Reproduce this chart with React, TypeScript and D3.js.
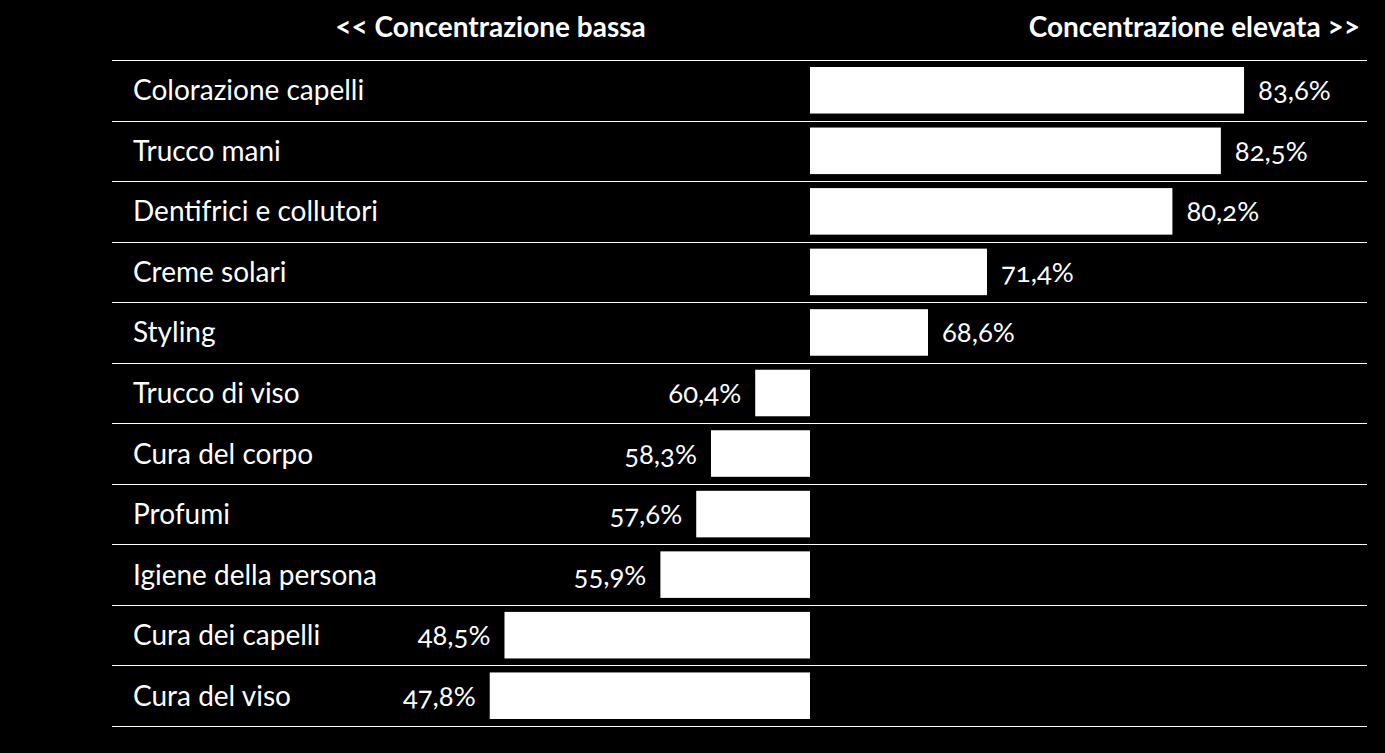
import React from "react";
import * as d3 from "d3";

const categories = [
  "Colorazione capelli",
  "Trucco mani",
  "Dentifrici e collutori",
  "Creme solari",
  "Styling",
  "Trucco di viso",
  "Cura del corpo",
  "Profumi",
  "Igiene della persona",
  "Cura dei capelli",
  "Cura del viso",
];
const values = [83.6, 82.5, 80.2, 71.4, 68.6, 60.4, 58.3, 57.6, 55.9, 48.5, 47.8];
const baselineValue = 63;
const headerLeft = "<< Concentrazione bassa";
const headerRight = "Concentrazione elevata >>";

const W = 1385;
const H = 753;

export default function App() {
  const x = d3.scaleLinear().domain([baselineValue, 84]).range([810, 810 + 21 * 21.07]);
  const y = d3.scaleBand<string>().domain(categories).range([60, 726]).padding(0);
  const step = y.step();
  const inset = 7;
  const fmt = (v: number) => v.toFixed(1).replace(".", ",") + "%";
  const font = "Lato, 'Open Sans', sans-serif";
  const lines = [...categories.map((c) => y(c)!), 726];

  return (
    <svg
      width={W}
      height={H}
      style={{ position: "absolute", left: 0, top: 0, background: "#000" }}
    >
      <rect x={0} y={0} width={W} height={H} fill="#000" />
      <text x={490.5} y={37} fill="#fff" fontFamily={font} fontWeight={700} fontSize={28} textAnchor="middle">
        {headerLeft}
      </text>
      <text x={1360} y={37} fill="#fff" fontFamily={font} fontWeight={700} fontSize={28} textAnchor="end">
        {headerRight}
      </text>
      {lines.map((ly, i) => (
        <line key={i} x1={112} x2={1367} y1={Math.round(ly) + 0.5} y2={Math.round(ly) + 0.5} stroke="#fff" strokeWidth={1.2} />
      ))}
      {categories.map((c, i) => {
        const v = values[i];
        const y0 = y(c)!;
        const x0 = x(Math.min(v, baselineValue));
        const x1 = x(Math.max(v, baselineValue));
        const right = v >= baselineValue;
        return (
          <g key={c}>
            <text x={133} y={y0 + step / 2 + 10} fill="#fff" fontFamily={font} fontSize={28}>
              {c}
            </text>
            <rect x={x0} y={y0 + inset} width={x1 - x0} height={step - 2 * inset} fill="#fff" />
            <text
              x={right ? x1 + 14 : x0 - 14}
              y={y0 + step / 2 + 10}
              fill="#fff"
              fontFamily={font}
              fontSize={27.5}
              textAnchor={right ? "start" : "end"}
              style={{ fontVariantNumeric: "oldstyle-nums" }}
            >
              {fmt(v)}
            </text>
          </g>
        );
      })}
    </svg>
  );
}
